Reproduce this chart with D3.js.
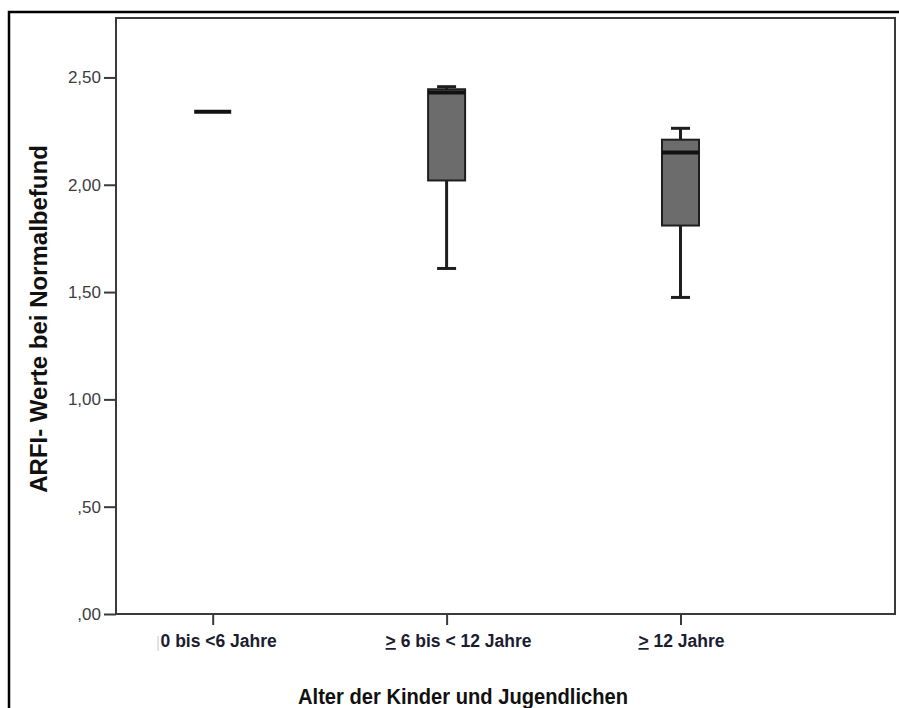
<!DOCTYPE html>
<html>
<head>
<meta charset="utf-8">
<script src="https://cdn.jsdelivr.net/npm/d3@7/dist/d3.min.js"></script>
<style>
  html, body { margin: 0; padding: 0; background: #fff; }
  svg { display: block; }
</style>
</head>
<body>
<div id="chart"></div>
<script>
// ARFI values per age group (box plot statistics)
const categories   = ["0 bis <6 Jahre", "6 bis < 12 Jahre", "12 Jahre"];
const labelPrefix  = ["", ">", ">"];            // prefix drawn underlined (≥)
const whiskerLow   = [2.34, 1.61, 1.475];
const q1           = [2.34, 2.02, 1.81];
const median       = [2.34, 2.43, 2.15];
const q3           = [2.34, 2.445, 2.21];
const whiskerHigh  = [2.34, 2.457, 2.263];
const yTicks       = [0, 0.5, 1.0, 1.5, 2.0, 2.5];
const yTitle = "ARFI- Werte bei Normalbefund";
const xTitle = "Alter der Kinder und Jugendlichen";

const W = 899, H = 708;
const plot = { left: 116, top: 18, right: 895, bottom: 614 };

const svg = d3.select("#chart").append("svg")
  .attr("width", W).attr("height", H);

// outer frame
svg.append("rect")
  .attr("x", 9).attr("y", 12)
  .attr("width", W + 10).attr("height", H + 10)
  .attr("fill", "none").attr("stroke", "#000").attr("stroke-width", 2.5);

const y = d3.scaleLinear().domain([0, 2.777]).range([plot.bottom, plot.top]);
const x = d3.scalePoint().domain(categories).range([212.7, 680.5]);

// plot area border
svg.append("rect")
  .attr("x", plot.left).attr("y", plot.top)
  .attr("width", plot.right - plot.left).attr("height", plot.bottom - plot.top)
  .attr("fill", "none").attr("stroke", "#3a3a3a").attr("stroke-width", 2);

const fmt = v => {
  let s = d3.format(".2f")(v).replace(".", ",");
  if (v < 1) s = s.replace(/^0/, "");
  return s;
};

// y axis
const yAxis = svg.append("g")
  .attr("transform", `translate(${plot.left},0)`)
  .call(d3.axisLeft(y).tickValues(yTicks).tickFormat(fmt).tickSize(12).tickPadding(3));
yAxis.select(".domain").remove();
yAxis.selectAll(".tick line").attr("stroke", "#3a3a3a").attr("stroke-width", 2);
yAxis.selectAll(".tick text")
  .attr("fill", "#3c3c3c")
  .style("font-family", "'Liberation Sans', Arial, sans-serif")
  .style("font-size", "17px");

// x axis
const xAxis = svg.append("g")
  .attr("transform", `translate(0,${plot.bottom})`)
  .call(d3.axisBottom(x).tickSize(11).tickFormat(""));
xAxis.select(".domain").remove();
xAxis.selectAll(".tick line").attr("stroke", "#3a3a3a").attr("stroke-width", 2);

// category labels
const labelNudge = [6, 12, 1];
const labels = svg.append("g")
  .style("font-family", "'Liberation Sans', Arial, sans-serif")
  .style("font-size", "17.5px")
  .style("font-weight", "bold")
  .attr("fill", "#1c1c30");
categories.forEach((c, i) => {
  const t = labels.append("text")
    .attr("x", x(c) + labelNudge[i])
    .attr("y", 647)
    .attr("text-anchor", "middle");
  if (labelPrefix[i]) {
    t.append("tspan").attr("text-decoration", "underline").text(labelPrefix[i]);
    t.append("tspan").text(" " + c);
  } else {
    t.text(c);
  }
});
// faint text-box edge next to the first label
svg.append("line")
  .attr("x1", 158).attr("x2", 158).attr("y1", 636).attr("y2", 651)
  .attr("stroke", "#c8c8c8").attr("stroke-width", 1);

// boxes
const boxW = 37, capW = 19;
const g = svg.append("g");
categories.forEach((c, i) => {
  const cx = x(c);
  const bg = g.append("g");
  // whiskers
  bg.append("line")
    .attr("x1", cx).attr("x2", cx)
    .attr("y1", y(whiskerHigh[i])).attr("y2", y(q3[i]))
    .attr("stroke", "#1e1e1e").attr("stroke-width", 3);
  bg.append("line")
    .attr("x1", cx).attr("x2", cx)
    .attr("y1", y(q1[i])).attr("y2", y(whiskerLow[i]))
    .attr("stroke", "#1e1e1e").attr("stroke-width", 3);
  if (whiskerHigh[i] !== q3[i]) {
    bg.append("line")
      .attr("x1", cx - capW / 2).attr("x2", cx + capW / 2)
      .attr("y1", y(whiskerHigh[i])).attr("y2", y(whiskerHigh[i]))
      .attr("stroke", "#1e1e1e").attr("stroke-width", 3);
  }
  if (whiskerLow[i] !== q1[i]) {
    bg.append("line")
      .attr("x1", cx - capW / 2).attr("x2", cx + capW / 2)
      .attr("y1", y(whiskerLow[i])).attr("y2", y(whiskerLow[i]))
      .attr("stroke", "#1e1e1e").attr("stroke-width", 3);
  }
  // box
  if (q3[i] > q1[i]) {
    bg.append("rect")
      .attr("x", cx - boxW / 2).attr("y", y(q3[i]))
      .attr("width", boxW).attr("height", y(q1[i]) - y(q3[i]))
      .attr("fill", "#6c6c6c").attr("stroke", "#1e1e1e").attr("stroke-width", 2);
  }
  // median
  bg.append("line")
    .attr("x1", cx - boxW / 2).attr("x2", cx + boxW / 2)
    .attr("y1", y(median[i])).attr("y2", y(median[i]))
    .attr("stroke", "#111").attr("stroke-width", 4);
});

// axis titles
svg.append("text")
  .attr("transform", "translate(47,319) rotate(-90)")
  .attr("text-anchor", "middle")
  .style("font-family", "'Liberation Sans', Arial, sans-serif")
  .style("font-size", "24px")
  .style("font-weight", "bold")
  .attr("fill", "#111")
  .text(yTitle);

svg.append("text")
  .attr("x", 298).attr("y", 704)
  .attr("textLength", 330).attr("lengthAdjust", "spacingAndGlyphs")
  .style("font-family", "'Liberation Sans', Arial, sans-serif")
  .style("font-size", "22px")
  .style("font-weight", "bold")
  .attr("fill", "#111")
  .text(xTitle);
</script>
</body>
</html>
